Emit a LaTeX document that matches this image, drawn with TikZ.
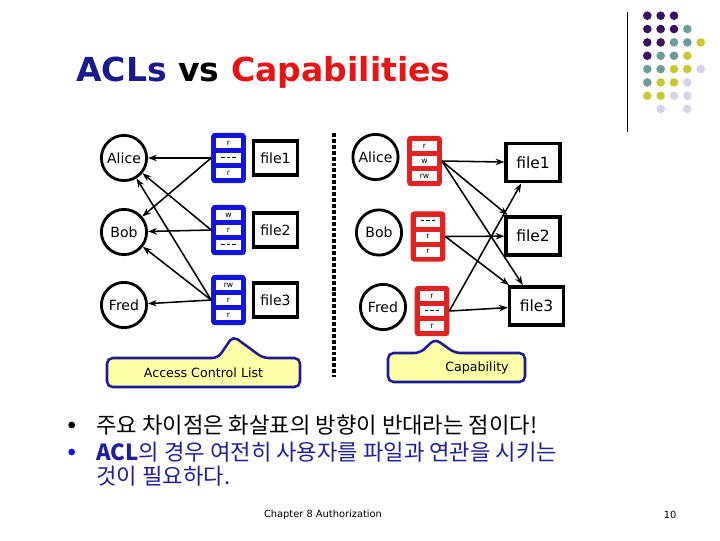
\documentclass[tikz,border=0pt]{standalone}
\usepackage{fontspec}
\setmainfont{DejaVu Sans}
\newfontfamily\kofont{Noto Sans CJK KR}
\usetikzlibrary{arrows.meta, calc}
\definecolor{aclblue}{HTML}{1414E0}
\definecolor{capred}{HTML}{E02222}
\definecolor{titleblue}{HTML}{1A1A8C}
\definecolor{titlered}{HTML}{E81414}
\definecolor{tagfill}{HTML}{FFFFA8}
\definecolor{tagline}{HTML}{1A1A9A}
\definecolor{textblue}{HTML}{1F1F9E}
\definecolor{dpurple}{HTML}{3C1060}
\definecolor{dteal}{HTML}{6B9B9B}
\definecolor{dyellow}{HTML}{C8C830}
\definecolor{dlav}{HTML}{D4D4E8}
\newcommand{\nix}{\rule[1.6pt]{2.6pt}{0.45pt}\kern1.3pt\rule[1.6pt]{2.6pt}{0.45pt}\kern1.3pt\rule[1.6pt]{2.6pt}{0.45pt}}
\tikzset{
  every picture/.style={line width=1pt},
  user/.style={circle, draw, line width=2pt, minimum size=1.13cm, inner sep=0pt, font=\fontsize{10}{12}\selectfont},
  file/.style={draw, line width=2.5pt, inner sep=0pt, font=\fontsize{10}{12}\selectfont},
  list/.style={draw=#1, fill=#1, line width=1pt, rounded corners=2pt, minimum width=0.83cm, minimum height=1.22cm, inner sep=0pt},
  cell/.style={fill=white, minimum width=0.62cm, minimum height=0.25cm, inner sep=0pt, font=\fontsize{5.5}{6}\selectfont},
  link/.style={-{Stealth[length=2.2mm, width=1.6mm]}, line width=1.1pt},
  tag/.style={draw=tagline, fill=tagfill, line width=1.8pt, rounded corners=4pt},
  tagtext/.style={font=\fontsize{9}{11}\selectfont},
  bulletdot/.style={circle, inner sep=0pt, minimum size=0.17cm},
  kotext/.style={anchor=base west, font=\kofont\fontsize{15.8}{18}\selectfont},
}

\begin{document}
\begin{tikzpicture}[x=0.025cm, y=-0.025cm]
  \useasboundingbox (0,0) rectangle (720,540);
  % corner decoration
  \draw[line width=0.7pt] (627,12) -- (627,132);
  \foreach \r/\cols in {1/{dpurple,dpurple,dpurple}, 2/{dpurple,dpurple,dpurple,dteal},
      3/{dpurple,dpurple,dteal,dteal,dyellow}, 4/{dpurple,dteal,dteal,dyellow},
      5/{dteal,dteal,dyellow,dyellow,dlav}, 6/{dteal,dyellow,dyellow,dlav},
      7/{dyellow,dyellow,dlav,dlav}} {
    \foreach \col [count=\c] in \cols
      \fill[\col] ({647.3+13.35*(\c-1)},{15.7+13.35*(\r-1)}) circle (4.3);
  }
  \fill[dlav] (660.7,109) circle (4.3);
  \fill[dlav] (687.3,109) circle (4.3);
  % title
  \node[anchor=base west, font=\bfseries\fontsize{23.5}{28}\selectfont] (title) at (71,81)
    {\textcolor{titleblue}{ACLs} vs \textcolor{titlered}{Capabilities}};
  % (a) access control lists
  \foreach \name/\y/\i in {Alice/158/A, Bob/232/B, Fred/305/F}
    \node[user] (u\i) at (124,\y) {\name};
  \foreach \y/\i/\a/\b/\c in {158/1/r/\nix/r, 230/2/w/r/\nix, 300/3/rw/r/r} {
    \node[list=aclblue] (acl\i) at (228.5,\y) {};
    \node[cell] (acl\i a) at ($(acl\i)+(0,-15)$) {\a};
    \node[cell] (acl\i b) at (acl\i) {\b};
    \node[cell] (acl\i c) at ($(acl\i)+(0,15)$) {\c};
    \node[file, minimum width=1.09cm, minimum height=0.84cm] (lf\i) at (275.5,\y) {file\i};
  }
  \draw[link] (acl1.west) -- (uA);
  \draw[link] (acl1.west) -- (uB);
  \draw[link] (acl2.west) -- (uA);
  \draw[link] (acl2.west) -- (uB);
  \draw[link] (acl3.west) -- (uA);
  \draw[link] (acl3.west) -- (uB);
  \draw[link] (acl3.west) -- (uF);
  \draw[tag] (107,358) -- (218,358) -- (233,336) -- (263,358) -- (300,358)
    -- (300,387) -- (107,387) -- cycle;
  \node[tagtext] (acltag) at (203.5,373) {Access Control List};
  % divider
  \draw[line width=2.8pt, dash pattern=on 2.8pt off 1.4pt] (334,133) -- (334,377);
  % (b) capabilities
  \foreach \name/\x/\y/\i/\a/\b/\c in {Alice/375.5/157/A/r/w/rw, Bob/379/232.5/B/\nix/r/r,
      Fred/383/307/F/r/\nix/r} {
    \node[user] (v\i) at (\x,\y) {\name};
    \node[list=capred] (cap\i) at ($(\x,\y)+(49,4)$) {};
    \node[cell] (cap\i a) at ($(cap\i)+(0,-15)$) {\a};
    \node[cell] (cap\i b) at (cap\i) {\b};
    \node[cell] (cap\i c) at ($(cap\i)+(0,15)$) {\c};
  }
  \foreach \x/\y/\i in {533/162.5/1, 533/236/2, 536.5/306/3}
    \node[file, minimum width=1.34cm, minimum height=0.96cm, font=\fontsize{11}{13}\selectfont] (rf\i) at (\x,\y) {file\i};
  \draw[link] (capA.east) -- (rf1);
  \draw[link] (capA.east) -- (rf2);
  \draw[link] (capA.east) -- (rf3);
  \draw[link] (capB.east) -- (rf2);
  \draw[link] (capB.east) -- (rf3);
  \draw[link] (capF.east) -- (rf1);
  \draw[link] (capF.east) -- (rf3);
  \draw[tag] (388,353) -- (420,353) -- (435,339) -- (455,353) -- (525,353)
    -- (525,382) -- (388,382) -- cycle;
  \node[tagtext] (captag) at (477,368) {Capability};
  % bullet text
  \node[bulletdot, fill=black] (dot1) at (71.7,425) {};
  \node[kotext] (line1) at (91,433) {주요 차이점은 화살표의 방향이 반대라는 점이다!};
  \node[bulletdot, fill=aclblue] (dot2) at (71.7,452) {};
  \node[kotext, text=textblue] (line2) at (91,460)
    {\textbf{\textit{ACL}}의 경우 여전히 사용자를 파일과 연관을 시키는};
  \node[kotext, text=textblue] (line3) at (91,484) {것이 필요하다.};
  % footer
  \node[font=\fontsize{7}{8}\selectfont] (foot) at (323,515) {Chapter 8 Authorization};
  \node[font=\fontsize{7}{8}\selectfont] (page) at (670,515) {10};
\end{tikzpicture}
\end{document}
